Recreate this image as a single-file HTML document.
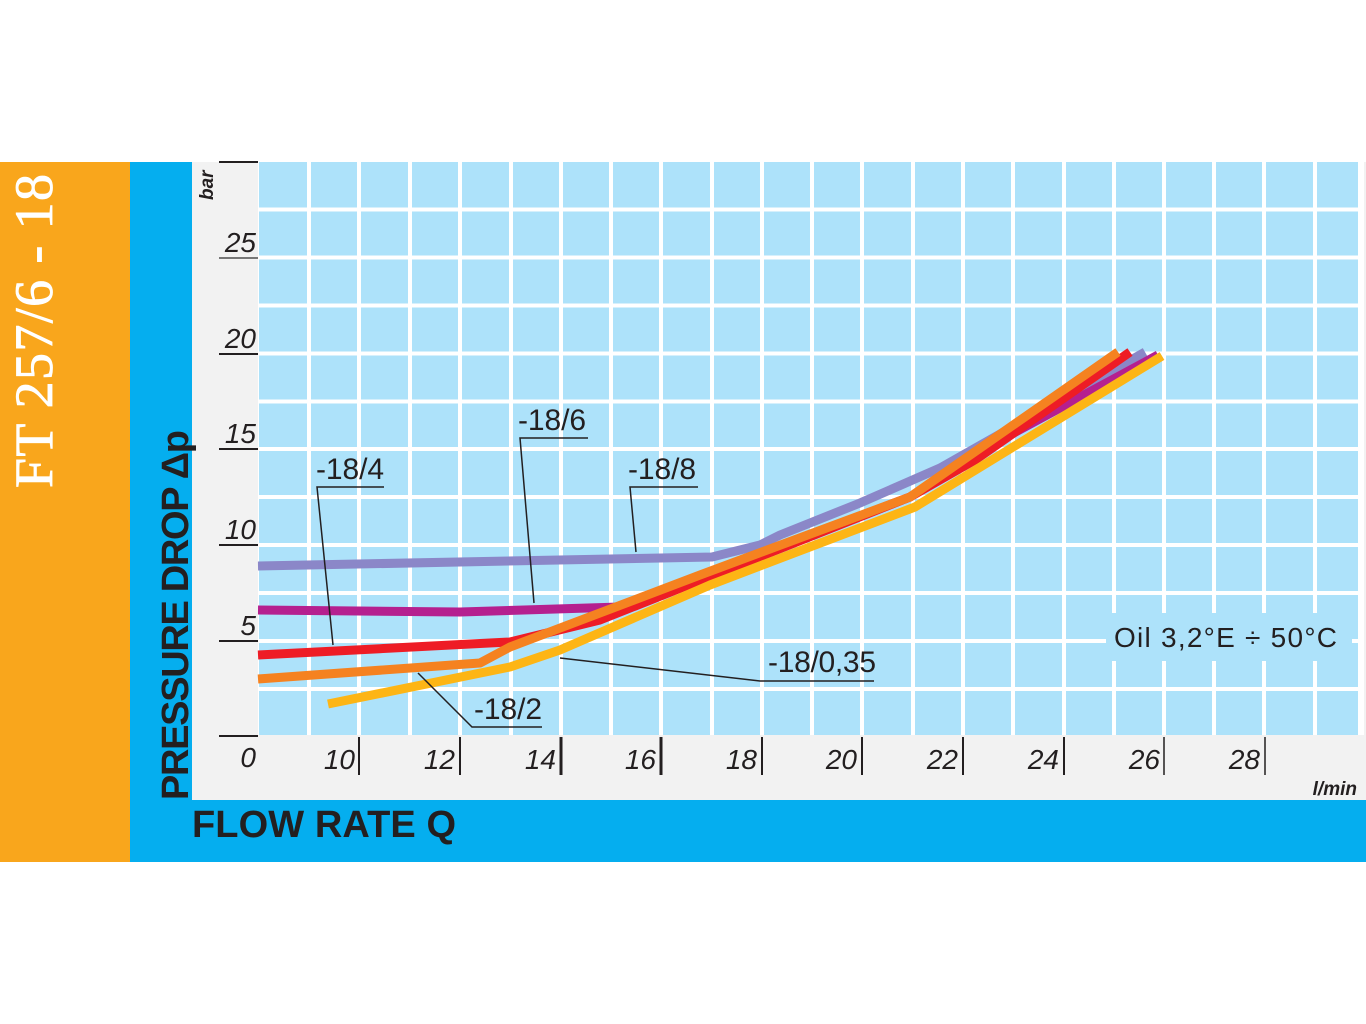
<!DOCTYPE html>
<html><head><meta charset="utf-8"><style>html,body{margin:0;padding:0;background:#fff;}svg{display:block}</style></head>
<body>
<svg width="1366" height="1024" viewBox="0 0 1366 1024" xmlns="http://www.w3.org/2000/svg">
<rect x="0" y="162" width="130" height="700" fill="#f9a61c"/>
<rect x="130" y="162" width="1236" height="700" fill="#05aeef"/>
<rect x="192" y="162" width="1174" height="638" fill="#f2f2f2"/>
<rect x="258" y="162" width="1106" height="573" fill="#fff"/>
<rect x="259" y="162" width="1103" height="573" fill="#ade2fa"/>
<g stroke="#fff" stroke-width="4">
<line x1="309" y1="162" x2="309" y2="735"/><line x1="359" y1="162" x2="359" y2="735"/><line x1="410" y1="162" x2="410" y2="735"/><line x1="460" y1="162" x2="460" y2="735"/><line x1="511" y1="162" x2="511" y2="735"/><line x1="561" y1="162" x2="561" y2="735"/><line x1="611" y1="162" x2="611" y2="735"/><line x1="661" y1="162" x2="661" y2="735"/><line x1="712" y1="162" x2="712" y2="735"/><line x1="762" y1="162" x2="762" y2="735"/><line x1="812" y1="162" x2="812" y2="735"/><line x1="862" y1="162" x2="862" y2="735"/><line x1="913" y1="162" x2="913" y2="735"/><line x1="963" y1="162" x2="963" y2="735"/><line x1="1013" y1="162" x2="1013" y2="735"/><line x1="1064" y1="162" x2="1064" y2="735"/><line x1="1114" y1="162" x2="1114" y2="735"/><line x1="1164" y1="162" x2="1164" y2="735"/><line x1="1214" y1="162" x2="1214" y2="735"/><line x1="1264" y1="162" x2="1264" y2="735"/><line x1="1315" y1="162" x2="1315" y2="735"/><line x1="1360" y1="162" x2="1360" y2="735"/>
<line x1="259" y1="209.5" x2="1362" y2="209.5"/><line x1="259" y1="257.5" x2="1362" y2="257.5"/><line x1="259" y1="305.5" x2="1362" y2="305.5"/><line x1="259" y1="353.5" x2="1362" y2="353.5"/><line x1="259" y1="401.5" x2="1362" y2="401.5"/><line x1="259" y1="449" x2="1362" y2="449"/><line x1="259" y1="497" x2="1362" y2="497"/><line x1="259" y1="545" x2="1362" y2="545"/><line x1="259" y1="593" x2="1362" y2="593"/><line x1="259" y1="641" x2="1362" y2="641"/><line x1="259" y1="689" x2="1362" y2="689"/>
</g>
<rect x="1106" y="613" width="246" height="48" fill="#ade2fa"/>
<text x="1114" y="647" font-family="Liberation Sans, sans-serif" font-size="28" fill="#231f20" textLength="223">Oil 3,2°E ÷ 50°C</text>
<g stroke="#231f20" stroke-width="2">
<line x1="219" y1="162" x2="258" y2="162"/><line x1="219" y1="258" x2="258" y2="258" stroke="#777"/><line x1="219" y1="354" x2="258" y2="354"/><line x1="219" y1="449" x2="258" y2="449"/><line x1="219" y1="545" x2="258" y2="545"/><line x1="219" y1="641" x2="258" y2="641"/><line x1="219" y1="736" x2="258" y2="736"/>
</g>
<g font-family="Liberation Sans, sans-serif" font-style="italic" font-size="28" fill="#231f20" text-anchor="end">
<text x="256" y="252">25</text><text x="256" y="348">20</text><text x="256" y="443">15</text><text x="256" y="539">10</text><text x="256" y="635">5</text><text x="256" y="767">0</text>
<text x="355" y="769">10</text><text x="455" y="769">12</text><text x="556" y="769">14</text><text x="656" y="769">16</text><text x="757" y="769">18</text><text x="857" y="769">20</text><text x="958" y="769">22</text><text x="1059" y="769">24</text><text x="1160" y="769">26</text><text x="1260" y="769">28</text>
</g>
<g stroke="#231f20">
<line x1="359" y1="737" x2="359" y2="775" stroke-width="2"/><line x1="460" y1="737" x2="460" y2="775" stroke-width="2"/><line x1="561" y1="737" x2="561" y2="775" stroke-width="3"/><line x1="661" y1="737" x2="661" y2="775" stroke-width="3"/><line x1="762" y1="737" x2="762" y2="775" stroke-width="2"/><line x1="862" y1="737" x2="862" y2="775" stroke-width="2"/><line x1="963" y1="737" x2="963" y2="775" stroke-width="2"/><line x1="1064" y1="737" x2="1064" y2="775" stroke-width="2"/><line x1="1164" y1="737" x2="1164" y2="775" stroke-width="1.5"/><line x1="1265" y1="737" x2="1265" y2="775" stroke-width="1.5"/>
</g>
<text x="1357" y="795" text-anchor="end" font-family="Liberation Sans, sans-serif" font-style="italic" font-weight="bold" font-size="19" fill="#231f20">l/min</text>
<text transform="translate(213,200) rotate(-90)" font-family="Liberation Sans, sans-serif" font-style="italic" font-weight="bold" font-size="19" fill="#231f20">bar</text>
<g fill="none" stroke-width="9" stroke-linejoin="round">
<polyline stroke="#8b87c8" points="258,566 712,557 760,545 780,535 860,503 940,468 1145,352"/>
<polyline stroke="#b5208f" points="258,610 460,612 620,607 700,577 910,497 1010,435 1158,355"/>
<polyline stroke="#ee1c25" points="258,655 510,642 600,620 910,497 975,460 1130,352"/>
<polyline stroke="#f58220" points="258,679 480,663 510,647 700,575 910,497 1118,352"/>
<polyline stroke="#fdb515" points="328,704 510,667 560,650 710,585 915,507 1162,356"/>
</g>
<g stroke="#231f20" stroke-width="1.5" fill="none">
<polyline points="384,487 317,487 333,645"/>
<polyline points="588,438 520,438 534,603"/>
<polyline points="698,487 630,487 636,552"/>
<polyline points="874,681 760,681 560,658"/>
<polyline points="542,727 472,727 418,673"/>
</g>
<g font-family="Liberation Sans, sans-serif" font-size="30" fill="#231f20">
<text x="316" y="479" textLength="68">-18/4</text><text x="518" y="430" textLength="68">-18/6</text><text x="628" y="479" textLength="68">-18/8</text><text x="768" y="672" textLength="108">-18/0,35</text><text x="474" y="719" textLength="68">-18/2</text>
</g>
<text transform="translate(188,800) rotate(-90)" font-family="Liberation Sans, sans-serif" font-weight="bold" font-size="38" fill="#231f20" textLength="370">PRESSURE DROP Δp</text>
<text x="192" y="837" font-family="Liberation Sans, sans-serif" font-weight="bold" font-size="38" fill="#231f20" textLength="264">FLOW RATE Q</text>
<text transform="translate(52,488) rotate(-90)" font-family="Liberation Serif, serif" font-size="54" fill="#fff" stroke="#fff" stroke-width="0.8" textLength="314">FT 257/6 - 18</text>
</svg>
</body></html>
